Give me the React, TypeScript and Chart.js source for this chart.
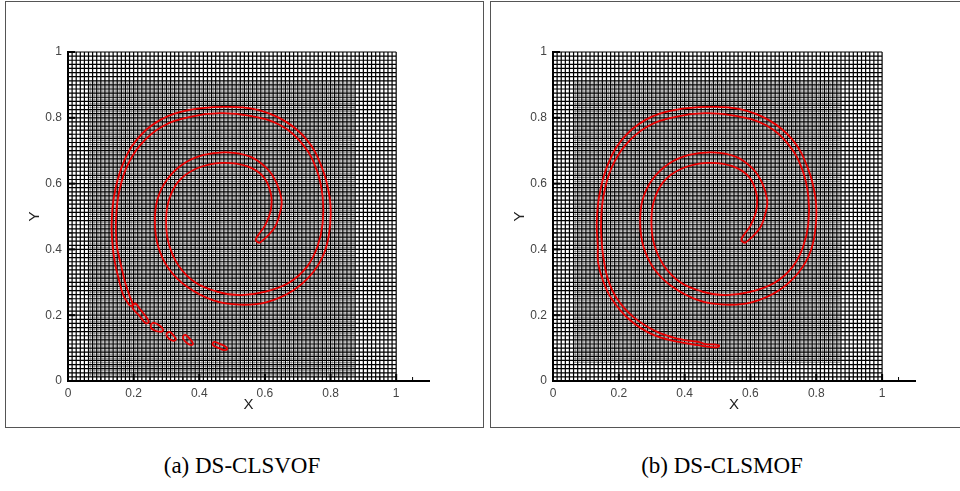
import React, { useEffect, useRef } from 'react';
import { Chart, registerables } from 'chart.js';

Chart.register(...registerables);

type P = [number, number];

// ---- axes ----
const xTickValues = [0, 0.2, 0.4, 0.6, 0.8, 1];
const xTickLabels = ['0', '0.2', '0.4', '0.6', '0.8', '1'];
const yTickValues = [0, 0.2, 0.4, 0.6, 0.8, 1];
const yTickLabels = ['0', '0.2', '0.4', '0.6', '0.8', '1'];
const xMinorTicks = [0.05, 0.1, 0.15, 0.25, 0.3, 0.35, 0.45, 0.5, 0.55, 0.65, 0.7, 0.75, 0.85, 0.9, 0.95, 1.05];
const yMinorTicks = [0.05, 0.1, 0.15, 0.25, 0.3, 0.35, 0.45, 0.5, 0.55, 0.65, 0.7, 0.75, 0.85, 0.9, 0.95];
const xAxisMax = 1.1;
const yAxisMax = 1;

// ---- mesh ----
const coarseCells = 80;
const fineCells = 160;
const coarseBox = [0, 1, 0, 1]; // xmin, xmax, ymin, ymax
const fineBoxA = [0.0625, 0.875, 0.0125, 0.90625];
const fineBoxB = [0.0625, 0.875, 0.05625, 0.90625];

// ---- interface contour (shared spiral body) ----
const spiralOuterEdge: P[] = [
  [0.583, 0.419], [0.601, 0.434], [0.631, 0.469], [0.648, 0.52], [0.651, 0.55],
  [0.636, 0.601], [0.606, 0.646], [0.555, 0.682], [0.484, 0.695], [0.413, 0.687],
  [0.352, 0.66], [0.301, 0.611], [0.272, 0.55], [0.265, 0.479], [0.275, 0.408],
  [0.306, 0.343], [0.362, 0.287], [0.443, 0.245], [0.524, 0.232], [0.606, 0.24],
  [0.687, 0.276], [0.748, 0.332], [0.784, 0.398], [0.799, 0.479], [0.797, 0.56],
  [0.773, 0.651], [0.728, 0.733], [0.656, 0.793], [0.565, 0.827], [0.474, 0.833],
  [0.372, 0.824], [0.28, 0.793], [0.209, 0.733], [0.164, 0.651], [0.14, 0.56],
  [0.133, 0.479], [0.136, 0.41],
];
const spiralInnerEdge: P[] = [
  [0.149, 0.41], [0.146, 0.479], [0.153, 0.56], [0.177, 0.646], [0.22, 0.717],
  [0.286, 0.773], [0.372, 0.803], [0.463, 0.814], [0.555, 0.806], [0.646, 0.778],
  [0.717, 0.717], [0.758, 0.641], [0.776, 0.56], [0.776, 0.479], [0.76, 0.408],
  [0.728, 0.347], [0.672, 0.298], [0.595, 0.27], [0.524, 0.261], [0.453, 0.272],
  [0.387, 0.3], [0.336, 0.352], [0.308, 0.413], [0.299, 0.479], [0.306, 0.545],
  [0.336, 0.606], [0.392, 0.646], [0.469, 0.663], [0.545, 0.653], [0.595, 0.621],
  [0.618, 0.57], [0.618, 0.52], [0.601, 0.474], [0.58, 0.444], [0.572, 0.428],
  [0.583, 0.419],
];

// ---- panel (a) tail + droplets ----
const tailA: P[] = [
  [0.143, 0.36], [0.153, 0.316], [0.168, 0.262], [0.182, 0.238], [0.191, 0.228],
  [0.197, 0.233], [0.188, 0.258], [0.174, 0.3], [0.163, 0.345], [0.155, 0.38],
];
const dropletA1: P[] = [
  [0.196, 0.228], [0.205, 0.236], [0.222, 0.215], [0.24, 0.192], [0.246, 0.179],
  [0.236, 0.176], [0.218, 0.198], [0.199, 0.218], [0.196, 0.228],
];
const dropletA2: P[] = [
  [0.252, 0.172], [0.262, 0.177], [0.28, 0.168], [0.29, 0.156], [0.285, 0.15],
  [0.268, 0.152], [0.254, 0.16], [0.252, 0.172],
];
const dropletA3: P[] = [
  [0.3, 0.145], [0.31, 0.149], [0.322, 0.138], [0.329, 0.127], [0.322, 0.122],
  [0.31, 0.127], [0.301, 0.137], [0.3, 0.145],
];
const dropletA4: P[] = [
  [0.35, 0.137], [0.358, 0.14], [0.372, 0.127], [0.381, 0.114], [0.376, 0.109],
  [0.364, 0.114], [0.351, 0.128], [0.35, 0.137],
];
const dropletA5: P[] = [
  [0.44, 0.116], [0.447, 0.119], [0.462, 0.113], [0.48, 0.105], [0.485, 0.097],
  [0.476, 0.094], [0.46, 0.1], [0.443, 0.108], [0.44, 0.116],
];

// ---- panel (b) tail ----
const tailB: P[] = [
  [0.137, 0.36], [0.152, 0.305], [0.178, 0.25], [0.232, 0.187], [0.305, 0.14],
  [0.386, 0.118], [0.44, 0.109], [0.48, 0.103], [0.5, 0.103], [0.505, 0.108],
  [0.49, 0.111], [0.465, 0.112], [0.445, 0.118], [0.425, 0.121], [0.386, 0.127],
  [0.315, 0.15], [0.244, 0.195], [0.192, 0.254], [0.166, 0.312], [0.154, 0.37],
];

const contourA: P[] = [...spiralOuterEdge, ...tailA, ...spiralInnerEdge];
const contourB: P[] = [...spiralOuterEdge, ...tailB, ...spiralInnerEdge];

const curvesA: P[][] = [contourA, dropletA1, dropletA2, dropletA3, dropletA4, dropletA5];
const curvesB: P[][] = [contourB];

type Pt = { x: number; y: number | null };

function meshLines(cells: number, box: number[], oddOnly: boolean): Pt[] {
  const [x0, x1, y0, y1] = box;
  const eps = 1e-9;
  const pts: Pt[] = [];
  for (let k = 0; k <= cells; k++) {
    if (oddOnly && k % 2 === 0) continue;
    const v = k / cells;
    if (v >= x0 - eps && v <= x1 + eps) pts.push({ x: v, y: y0 }, { x: v, y: y1 }, { x: v, y: null });
  }
  for (let k = 0; k <= cells; k++) {
    if (oddOnly && k % 2 === 0) continue;
    const v = k / cells;
    if (v >= y0 - eps && v <= y1 + eps) pts.push({ x: x0, y: v }, { x: x1, y: v }, { x: x1, y: null });
  }
  return pts;
}

const inwardTicks = {
  id: 'inwardTicks',
  afterDraw(chart: any) {
    const { ctx } = chart;
    const xs = chart.scales.x;
    const ys = chart.scales.y;
    const by = ys.getPixelForValue(0);
    const lx = xs.getPixelForValue(0);
    ctx.save();
    ctx.strokeStyle = '#000';
    const seg = (a: number, b: number, c: number, d: number, w: number) => {
      ctx.lineWidth = w;
      ctx.beginPath();
      ctx.moveTo(a, b);
      ctx.lineTo(c, d);
      ctx.stroke();
    };
    xTickValues.forEach((v) => { const p = xs.getPixelForValue(v); seg(p, by, p, by - 7, 2); });
    xMinorTicks.forEach((v) => { const p = xs.getPixelForValue(v); seg(p, by, p, by - 4, 1); });
    yTickValues.forEach((v) => { const p = ys.getPixelForValue(v); seg(lx, p, lx + 7, p, 2); });
    yMinorTicks.forEach((v) => { const p = ys.getPixelForValue(v); seg(lx, p, lx + 4, p, 1); });
    ctx.restore();
  },
};

function makeConfig(curves: P[][], fineBox: number[], padRight: number) {
  const datasets: any[] = [];
  curves.forEach((c) => {
    datasets.push({
      data: c.map(([x, y]) => ({ x, y })),
      showLine: true,
      borderColor: 'rgb(232,0,0)',
      borderWidth: 1.8,
      pointRadius: 0,
      tension: 0.4,
      fill: false,
      order: 0,
    });
  });
  datasets.push({
    data: meshLines(coarseCells, coarseBox, false),
    showLine: true,
    borderColor: 'rgba(0,0,0,1)',
    borderWidth: 1.2,
    pointRadius: 0,
    tension: 0,
    spanGaps: false,
    clip: false,
    order: 1,
  });
  datasets.push({
    data: meshLines(fineCells, fineBox, true),
    showLine: true,
    borderColor: 'rgba(0,0,0,0.32)',
    borderWidth: 1,
    pointRadius: 0,
    tension: 0,
    spanGaps: false,
    clip: false,
    order: 2,
  });
  const tickFont = { family: 'Liberation Sans, Arial, sans-serif', size: 12 };
  const titleFont = { family: 'Liberation Sans, Arial, sans-serif', size: 15 };
  return {
    type: 'scatter',
    data: { datasets },
    options: {
      animation: false,
      responsive: false,
      events: [],
      layout: { padding: { top: 52, right: padRight, left: 0, bottom: 0 } },
      plugins: { legend: { display: false }, tooltip: { enabled: false } },
      scales: {
        x: {
          type: 'linear',
          min: 0,
          max: xAxisMax,
          z: 1,
          afterBuildTicks: (s: any) => { s.ticks = xTickValues.map((v) => ({ value: v })); },
          afterFit: (s: any) => { s.height = 49; },
          grid: { display: false, drawTicks: false, tickLength: 0 },
          border: { display: true, color: '#000', width: 2 },
          ticks: {
            padding: 5,
            color: '#444',
            font: tickFont,
            maxRotation: 0,
            autoSkip: false,
            callback: (_v: any, i: number) => xTickLabels[i],
          },
          title: { display: true, text: 'X', color: '#222', font: titleFont, padding: { top: 0, bottom: 16 } },
        },
        y: {
          type: 'linear',
          min: 0,
          max: yAxisMax,
          z: 1,
          afterBuildTicks: (s: any) => { s.ticks = yTickValues.map((v) => ({ value: v })); },
          afterFit: (s: any) => { s.width = 68; },
          grid: { display: false, drawTicks: false, tickLength: 0 },
          border: { display: true, color: '#000', width: 2 },
          ticks: {
            padding: 6,
            color: '#444',
            font: tickFont,
            autoSkip: false,
            callback: (_v: any, i: number) => yTickLabels[i],
          },
          title: { display: true, text: 'Y', color: '#222', font: titleFont, padding: { top: 26, bottom: 0 } },
        },
      },
    },
    plugins: [inwardTicks],
  };
}

function Panel({ curves, fineBox, left, width, padRight }: { curves: P[][]; fineBox: number[]; left: number; width: number; padRight: number }) {
  const ref = useRef<HTMLCanvasElement | null>(null);
  useEffect(() => {
    if (!ref.current) return;
    const chart = new Chart(ref.current, makeConfig(curves, fineBox, padRight) as any);
    return () => chart.destroy();
  }, []);
  return (
    <canvas
      ref={ref}
      width={width}
      height={430}
      style={{ position: 'absolute', left, top: 0, width, height: 430 }}
    />
  );
}

const captionStyle: React.CSSProperties = {
  position: 'absolute',
  top: 454,
  height: 24,
  lineHeight: '24px',
  textAlign: 'center',
  fontFamily: '"Liberation Serif", "Times New Roman", serif',
  fontSize: 23,
  color: '#000',
};

export default function App() {
  return (
    <div style={{ position: 'fixed', left: 0, top: 0, width: 960, height: 491, background: '#fff', overflow: 'hidden' }}>
      <div style={{ position: 'absolute', left: 5, top: 1, width: 479, height: 427, border: '1px solid #555', boxSizing: 'border-box' }} />
      <div style={{ position: 'absolute', left: 490, top: 1, width: 480, height: 427, border: '1px solid #555', boxSizing: 'border-box' }} />
      <Panel curves={curvesA} fineBox={fineBoxA} left={0} width={480} padRight={51} />
      <Panel curves={curvesB} fineBox={fineBoxB} left={485} width={475} padRight={45} />
      <div style={{ ...captionStyle, left: 0, width: 484 }}>(a) DS-CLSVOF</div>
      <div style={{ ...captionStyle, left: 490, width: 464 }}>(b) DS-CLSMOF</div>
    </div>
  );
}
